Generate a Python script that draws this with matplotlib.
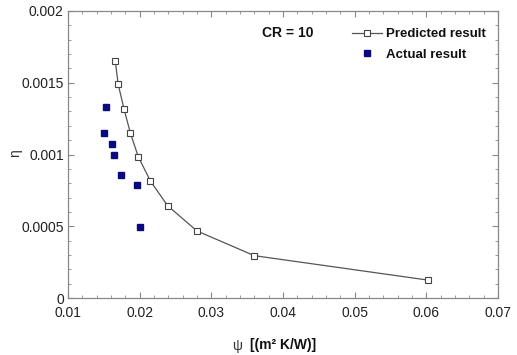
import matplotlib
matplotlib.use("Agg")
import matplotlib.pyplot as plt
from matplotlib.lines import Line2D
from matplotlib.ticker import MultipleLocator, FixedFormatter, FixedLocator

plt.rcParams['font.family'] = ['Liberation Sans', 'DejaVu Sans']

pred_x = [0.0166, 0.0170, 0.0178, 0.0187, 0.0198, 0.0215, 0.0239, 0.0280, 0.0360, 0.0602]
pred_y = [0.00165, 0.00149, 0.00132, 0.00115, 0.000985, 0.000815, 0.000643, 0.000467, 0.000295, 0.000125]
act_x = [0.0153, 0.0150, 0.0161, 0.0164, 0.0174, 0.0196, 0.0201]
act_y = [0.00133, 0.00115, 0.001075, 0.001, 0.00086, 0.000787, 0.000493]

xticks = [0.01, 0.02, 0.03, 0.04, 0.05, 0.06, 0.07]
xticklabels = ['0.01', '0.02', '0.03', '0.04', '0.05', '0.06', '0.07']
yticks = [0, 0.0005, 0.001, 0.0015, 0.002]
yticklabels = ['0', '0.0005', '0.001', '0.0015', '0.002']

fig = plt.figure(figsize=(5.17, 3.55), dpi=100)
ax = fig.add_axes([68/517, 1-298/355, 430/517, 287/355])

line_col = '#555555'
ax.plot(pred_x, pred_y, '-', color=line_col, lw=0.9, marker='s', ms=4.5,
        mfc='white', mec='#444444', mew=0.8, zorder=3)
ax.plot(act_x, act_y, 's', color='#0a0a80', ms=4.2, mec='#0a0a80', ls='none', zorder=3)

ax.set_xlim(0.01, 0.07)
ax.set_ylim(0, 0.002)
ax.xaxis.set_major_locator(FixedLocator(xticks))
ax.xaxis.set_major_formatter(FixedFormatter(xticklabels))
ax.yaxis.set_major_locator(FixedLocator(yticks))
ax.yaxis.set_major_formatter(FixedFormatter(yticklabels))
ax.xaxis.set_minor_locator(MultipleLocator(0.002))
ax.yaxis.set_minor_locator(MultipleLocator(0.0001))
ax.tick_params(which='both', direction='in', top=True, right=True, colors='#888888',
               labelcolor='#222222', labelsize=10)
ax.tick_params(which='major', length=4, width=0.8)
ax.tick_params(which='minor', length=2.5, width=0.6)
ax.tick_params(axis='x', pad=6)
ax.tick_params(axis='y', pad=3)
for s in ax.spines.values():
    s.set_color('#888888')
    s.set_linewidth(0.9)

ax.text(0.512, 0.923, 'CR = 10', transform=ax.transAxes, ha='center', va='center',
        fontsize=10, fontweight='bold', color='#111111')

handles = [
    Line2D([], [], color=line_col, lw=0.9, marker='s', ms=4.5, mfc='white', mec='#444444', mew=0.8),
    Line2D([], [], color='#0a0a80', marker='s', ms=4.2, ls='none'),
]
leg = ax.legend(handles, ['Predicted result', 'Actual result'], loc='upper left',
                bbox_to_anchor=(0.660, 0.941), frameon=False, borderpad=0, borderaxespad=0,
                handlelength=2.3, handletextpad=0.3, labelspacing=0.65, numpoints=1,
                prop={'weight': 'bold', 'size': 9.5})
for t in leg.get_texts():
    t.set_color('#111111')

fig.text(15/517, 1-153/355, 'η', rotation=90, ha='center', va='center', fontsize=10, color='#333333')
fig.text(237/517, 1-346/355, 'ψ', ha='center', va='center', fontsize=10, color='#333333')
fig.text(250/517, 1-345/355, '[(m² K/W)]', ha='left', va='center', fontsize=10,
         fontweight='bold', color='#111111')

fig.savefig('out.png', dpi=100)
